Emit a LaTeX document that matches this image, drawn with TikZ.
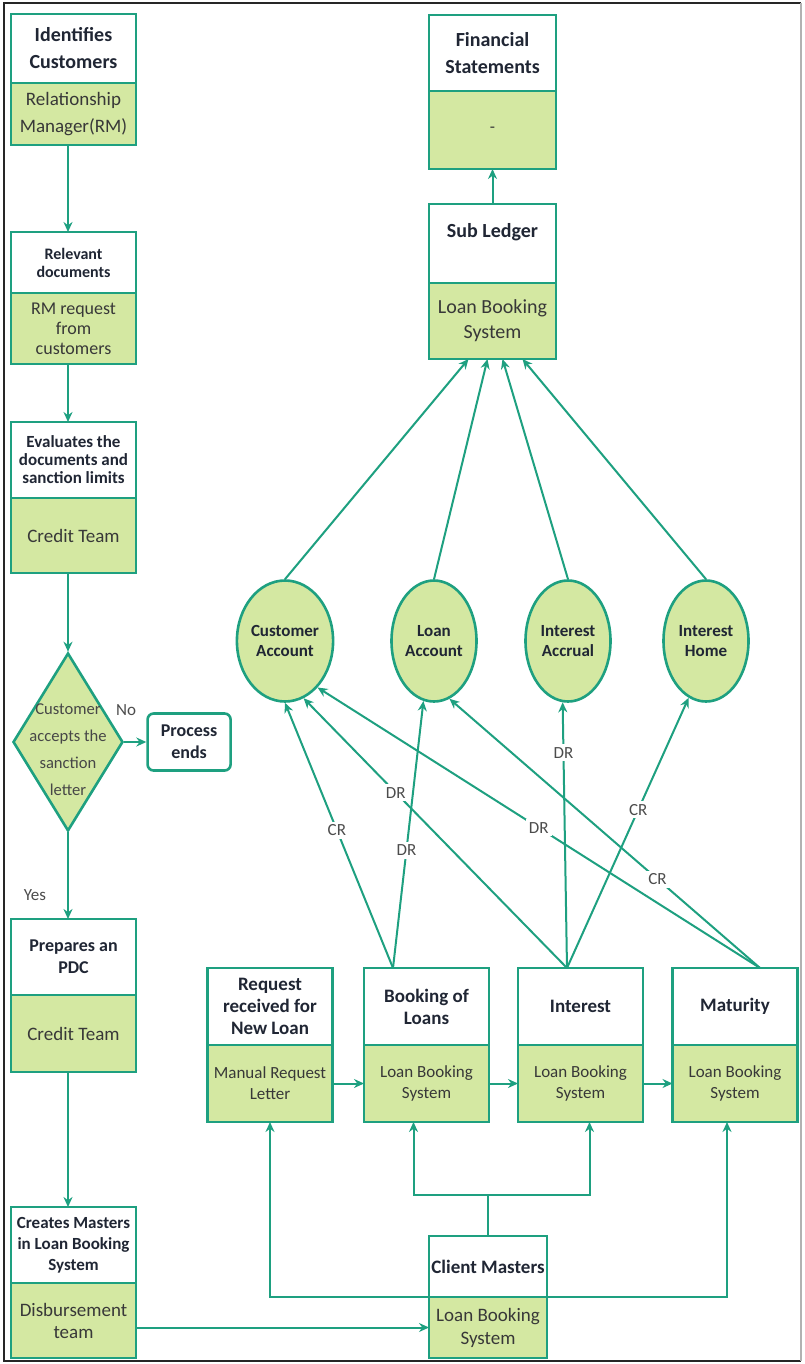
\documentclass[tikz,border=0pt]{standalone}
\usepackage{fontspec}
\setmainfont{Carlito}
\usepackage{tikz}
\usetikzlibrary{positioning, arrows.meta, shapes.geometric, calc}

\definecolor{flowline}{RGB}{30,160,128}
\definecolor{flowfill}{RGB}{212,232,162}
\definecolor{inktext}{RGB}{32,38,52}

\begin{document}
\begin{tikzpicture}[x=0.5pt, y=-0.5pt,
	box/.style={draw=flowline, line width=1.3pt, minimum width=62.5pt, inner sep=1pt, outer sep=0pt, align=center},
	head/.style={box, fill=white, text=inktext, font=\bfseries\fontsize{9.5}{11}\selectfont},
	part/.style={box, fill=flowfill, text=black!78, font=\fontsize{8.5}{10.5}\selectfont},
	acct/.style={ellipse, draw=flowline, line width=1.3pt, fill=flowfill, minimum width=42.5pt, minimum height=60.5pt, inner sep=0pt, align=center, text=inktext, font=\bfseries\fontsize{8.5}{10}\selectfont},
	link/.style={draw=flowline, line width=1pt, -{Stealth[length=5pt,width=4.5pt]}},
	entry/.style={fill=white, inner sep=1.5pt, text=black!70, font=\fontsize{8.5}{10}\selectfont}]
					\useasboundingbox (0,0) rectangle (804,1364);
					\draw[line width=1.4pt, black!85] (801,3) -- (4,3) -- (4,1361) -- (801,1361);
					\draw[line width=0.8pt, black!30] (801,3) -- (801,1361);

					\node[head, minimum height=34.5pt, font=\bfseries\fontsize{10}{13.5}\selectfont] (ident) at (73.5,48.5) {Identifies\\Customers};
					\node[part, minimum height=31pt, below=0pt of ident, font=\fontsize{9.5}{13.5}\selectfont] (identb) {Relationship\\Manager(RM)};
					\node[head, minimum height=30.5pt, font=\bfseries\fontsize{8}{9}\selectfont] (docs) at (73.5,262.5) {Relevant\\documents};
					\node[part, minimum height=35.5pt, below=0pt of docs, font=\fontsize{9}{10}\selectfont] (docsb) {RM request\\from\\customers};
					\node[head, minimum height=38pt, font=\bfseries\fontsize{8.5}{9}\selectfont] (eval) at (73.5,460) {Evaluates the\\documents and\\sanction limits};
					\node[part, minimum height=37.5pt, below=0pt of eval, font=\fontsize{9.5}{12}\selectfont] (evalb) {Credit Team};
					\node[diamond, draw=flowline, line width=1.3pt, fill=flowfill, minimum width=55pt, minimum height=89pt, inner sep=0pt] (ask) at (68,742) {};
					\node[align=center, text=black!72, font=\fontsize{8.3}{13.5}\selectfont] (asktext) at (68,750) {Customer\\accepts the\\sanction\\letter};
					\node[draw=flowline, line width=1.3pt, fill=white, rounded corners=3pt, minimum width=41.5pt, minimum height=28.5pt, align=center, text=inktext, font=\bfseries\fontsize{9}{11}\selectfont, right=11pt of ask] (stop) {Process\\ends};
					\node[text=black!70, font=\fontsize{8.5}{10}\selectfont] (no) at (126,710) {No};
					\node[text=black!70, font=\fontsize{8.5}{10}\selectfont] (yes) at (35,895) {Yes};
					\node[head, minimum height=38pt, font=\bfseries\fontsize{9}{11}\selectfont] (pdc) at (73.5,957) {Prepares an\\PDC};
					\node[part, minimum height=38.5pt, below=0pt of pdc, font=\fontsize{9.5}{12}\selectfont] (pdcb) {Credit Team};
					\node[head, minimum height=38pt, font=\bfseries\fontsize{8.5}{10.5}\selectfont] (mast) at (73.5,1245) {Creates Masters\\in Loan Booking\\System};
					\node[part, minimum height=37.5pt, below=0pt of mast, font=\fontsize{9.5}{11}\selectfont] (mastb) {Disbursement\\team};

					\node[head, minimum width=63.5pt, minimum height=38pt, font=\bfseries\fontsize{10}{13.5}\selectfont] (fin) at (492.5,53) {Financial\\Statements};
					\node[part, minimum width=63.5pt, minimum height=39pt, below=0pt of fin] (finb) {-};
					\node[head, minimum width=63.5pt, minimum height=39.5pt, font=\bfseries\fontsize{10}{13.5}\selectfont] (sub) at (492.5,243.5) {Sub Ledger\\~};
					\node[part, minimum width=63.5pt, minimum height=38pt, below=0pt of sub, font=\fontsize{10}{12.5}\selectfont] (subb) {Loan Booking\\System};

					\node[acct] (cust) at (285,641) {Customer\\Account};
					\node[acct] (loan) at (434,641) {Loan\\Account};
					\node[acct] (accr) at (568,641) {Interest\\Accrual};
					\node[acct] (home) at (706,641) {Interest\\Home};

					\node[head, minimum height=38.5pt] (req) at (270,1006.5) {Request\\received for\\New Loan};
					\node[part, minimum height=38.5pt, below=0pt of req] (reqb) {Manual Request\\Letter};
					\node[head, minimum height=38.5pt] (book) at (426.5,1006.5) {Booking of\\Loans};
					\node[part, minimum height=38.5pt, below=0pt of book] (bookb) {Loan Booking\\System};
					\node[head, minimum height=38.5pt] (int) at (580.5,1006.5) {Interest};
					\node[part, minimum height=38.5pt, below=0pt of int] (intb) {Loan Booking\\System};
					\node[head, minimum height=38.5pt] (mat) at (735,1006.5) {Maturity};
					\node[part, minimum height=38.5pt, below=0pt of mat] (matb) {Loan Booking\\System};
					\node[head, minimum width=59pt, minimum height=30.5pt, font=\bfseries\fontsize{9.5}{11.5}\selectfont] (cm) at (488,1266.5) {Client Masters};
					\node[part, minimum width=59pt, minimum height=30.5pt, below=0pt of cm, font=\fontsize{9.5}{11.5}\selectfont] (cmb) {Loan Booking\\System};

					\draw[link] (identb.south -| ask.north) -- (docs.north -| ask.north);
					\draw[link] (docsb.south -| ask.north) -- (eval.north -| ask.north);
					\draw[link] (evalb.south -| ask.north) -- (ask.north);
					\draw[link] (ask.east) -- (stop.west);
					\draw[link] (ask.south) -- (pdc.north -| ask.south);
					\draw[link] (pdcb.south -| ask.south) -- (mast.north -| ask.south);
					\draw[link] (mastb.east |- cmb.west) -- (cmb.west);

					\draw[link] (sub.north) -- (finb.south);
					\draw[link] (cust.north) -- ([xshift=-12pt]subb.south);
					\draw[link] (loan.north) -- ([xshift=-2.5pt]subb.south);
					\draw[link] (accr.north) -- ([xshift=5pt]subb.south);
					\draw[link] (home.north) -- ([xshift=15pt]subb.south);

					\draw[link] (reqb.east) -- (bookb.west);
					\draw[link] (bookb.east) -- (intb.west);
					\draw[link] (intb.east) -- (matb.west);

					\coordinate (fork) at (488,1195);
					\draw[flowline, line width=1pt] (cm.north) -- (fork);
					\draw[link] (fork) -| ([xshift=-6.5pt]bookb.south);
					\draw[link] (fork) -| ([xshift=4.5pt]intb.south);
					\draw[link] (cm.south west) -| (reqb.south);
					\draw[link] (cm.south east) -| ([xshift=-4pt]matb.south);

					\draw[link] ([xshift=-16.75pt]book.north) -- node[entry, pos=.52] (cr1) {CR} (cust.-90);
					\draw[link] ([xshift=-16.75pt]book.north) -- node[entry, pos=.44] (dr1) {DR} (loan.-100);
					\draw[link] ([xshift=-6.75pt]int.north) -- node[entry, pos=.65] (dr2) {DR} (cust.-72);
					\draw[link] ([xshift=-6.75pt]int.north) -- node[entry, pos=.81] (dr3) {DR} (accr.-95);
					\draw[link] ([xshift=-6.75pt]int.north) -- node[entry, pos=.585] (cr2) {CR} (home.-107);
					\draw[link] ([xshift=12.5pt]mat.north) -- node[entry, pos=.5] (dr4) {DR} (cust.-55);
					\draw[link] ([xshift=12.5pt]mat.north) -- node[entry, pos=.33] (cr3) {CR} (loan.-75);
				\end{tikzpicture}
\end{document}
